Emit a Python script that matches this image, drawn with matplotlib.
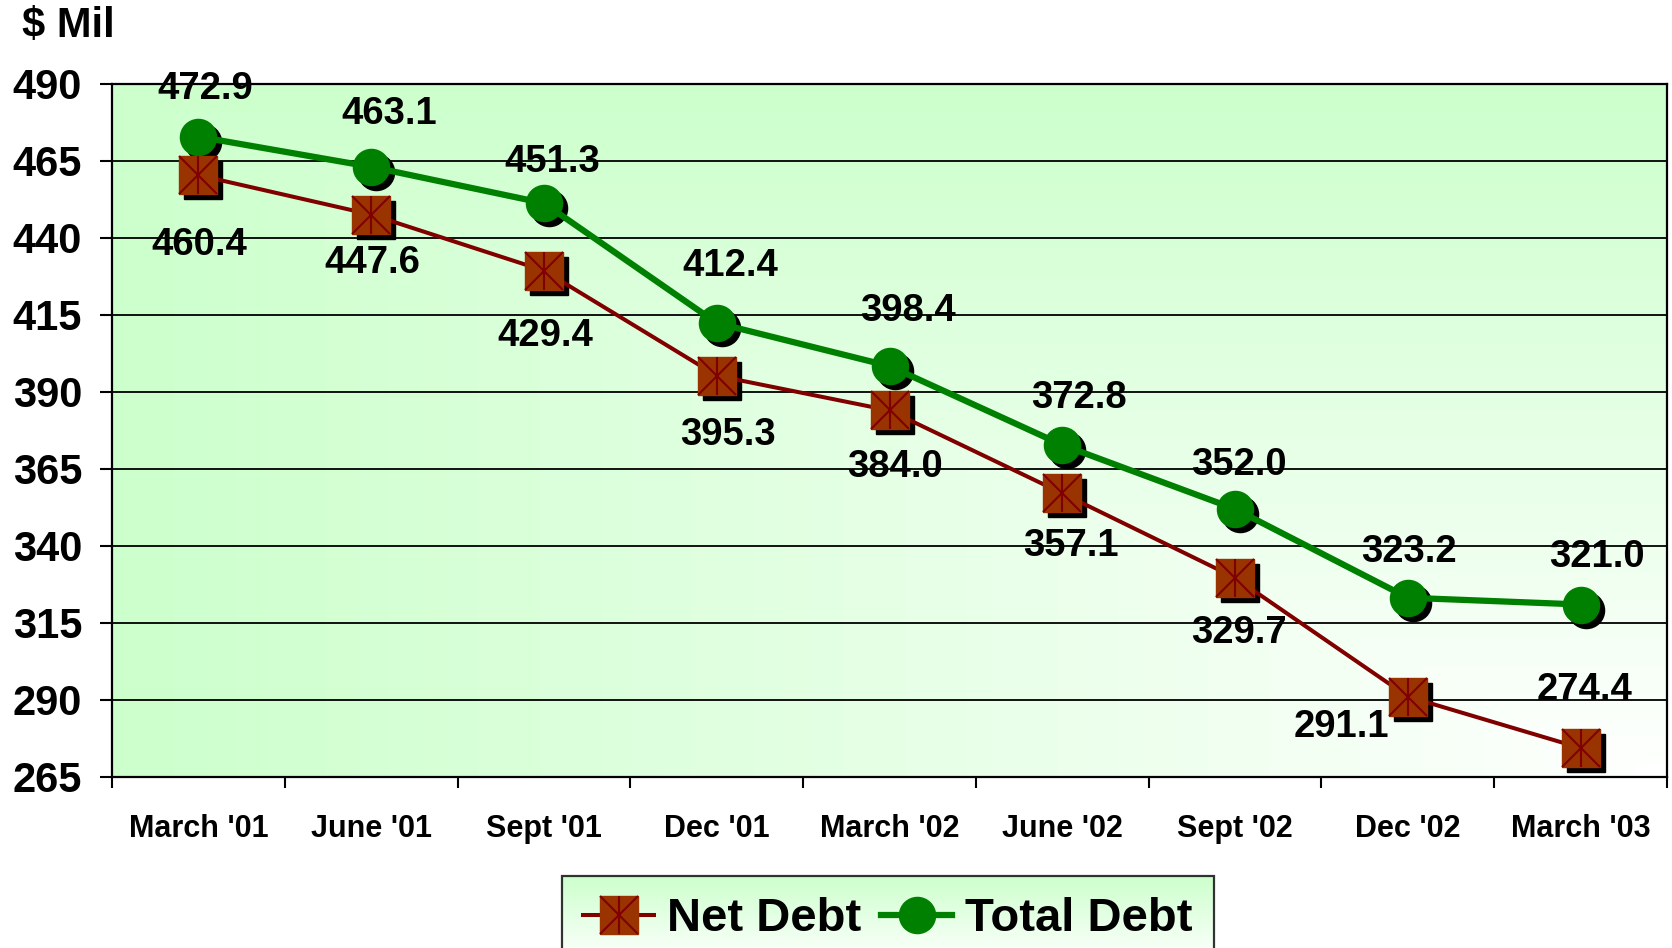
import numpy as np
import matplotlib.pyplot as plt
from matplotlib.lines import Line2D
from matplotlib.transforms import ScaledTranslation
from matplotlib.legend_handler import HandlerTuple

plt.rcParams['font.family'] = ['Liberation Sans', 'DejaVu Sans']
plt.rcParams['font.weight'] = 'bold'

quarters = ["March '01", "June '01", "Sept '01", "Dec '01", "March '02",
            "June '02", "Sept '02", "Dec '02", "March '03"]
net_debt = [460.4, 447.6, 429.4, 395.3, 384.0, 357.1, 329.7, 291.1, 274.4]
total_debt = [472.9, 463.1, 451.3, 412.4, 398.4, 372.8, 352.0, 323.2, 321.0]
y_ticks = [265, 290, 315, 340, 365, 390, 415, 440, 465, 490]

# where the value labels sit relative to the markers (points)
total_off = [(5, 34), (13, 38), (6, 30), (10, 41), (13, 40), (12, 34), (3, 32), (1, 33), (12, 34)]
net_off = [(1, -50), (1, -35), (1, -47), (8, -43), (4, -41), (6, -38), (3, -40), (-48, -22), (3, 42)]

green = '#008000'
red_line = '#800000'
brown = '#993300'
light_green = np.array([204, 255, 204]) / 255.0
white = np.array([1.0, 1.0, 1.0])

fig = plt.figure(figsize=(16.72, 9.48), dpi=100)
ax = fig.add_axes([0.067, 0.1804, 0.930, 0.731])

x = np.arange(len(quarters))

# background: green fading to white towards the bottom-right corner
H, W = 200, 400
u = np.linspace(0, 1, W)[None, :]
v = np.linspace(0, 1, H)[:, None]
t = np.maximum(1 - u, 1 - v)
grad = white[None, None, :] * (1 - t[..., None]) + light_green[None, None, :] * t[..., None]
ax.imshow(grad, extent=[0, 1, 0, 1], transform=ax.transAxes, aspect='auto', zorder=0)

ax.set_xlim(-0.5, len(quarters) - 0.5)
ax.set_ylim(265, 490)
ax.set_axisbelow(True)
ax.yaxis.grid(True, color='black', linewidth=1.3)

# drop shadows under the markers
shadow = ax.transData + ScaledTranslation(5 / 100, -5 / 100, fig.dpi_scale_trans)
ax.plot(x, net_debt, 's', ms=27, color='black', transform=shadow, zorder=2)
ax.plot(x, total_debt, 'o', ms=26, color='black', transform=shadow, zorder=2)

ax.plot(x, net_debt, '-', color=red_line, lw=2.9, zorder=3)
ax.plot(x, total_debt, '-', color=green, lw=4.5, zorder=3)
ax.plot(x, net_debt, 's', ms=27, mfc=brown, mec=brown, zorder=4)
ax.plot(x, net_debt, 'x', ms=27, mec=red_line, mew=1.5, zorder=5)
ax.plot(x, net_debt, '|', ms=27, mec=red_line, mew=1.5, zorder=5)
ax.plot(x, total_debt, 'o', ms=26, mfc=green, mec=green, zorder=4)

for i in range(len(quarters)):
    ax.annotate('%.1f' % total_debt[i], (x[i], total_debt[i]), xytext=total_off[i],
                textcoords='offset points', ha='center', va='center',
                fontsize=27.5, fontweight='bold', zorder=6)
    ax.annotate('%.1f' % net_debt[i], (x[i], net_debt[i]), xytext=net_off[i],
                textcoords='offset points', ha='center', va='center',
                fontsize=27.5, fontweight='bold', zorder=6)

ax.set_yticks(y_ticks)
ax.set_yticklabels([str(v) for v in y_ticks])
ax.tick_params(axis='y', length=8.5, width=1.5, pad=13, labelsize=30)
ax.set_xticks(np.arange(-0.5, len(quarters)))
ax.set_xticklabels([])
ax.set_xticks(x, minor=True)
ax.set_xticklabels(quarters, minor=True)
ax.tick_params(axis='x', which='major', length=8, width=1.5)
ax.tick_params(axis='x', which='minor', length=0, pad=27, labelsize=22)
for s in ax.spines.values():
    s.set_linewidth(1.6)
    s.set_color('black')

fig.text(0.013, 0.9726, '$ Mil', fontsize=30, fontweight='bold', ha='left', va='center')

h_net = (Line2D([], [], color=red_line, lw=2.9, marker='s', ms=27, mfc=brown, mec=brown),
         Line2D([], [], ls='none', marker='x', ms=27, mec=red_line, mew=1.5),
         Line2D([], [], ls='none', marker='|', ms=27, mec=red_line, mew=1.5))
h_tot = Line2D([], [], color=green, lw=4.5, marker='o', ms=26, mfc=green, mec=green)
leg = fig.legend([h_net, h_tot], ['Net Debt', 'Total Debt'], ncol=2,
                 handler_map={tuple: HandlerTuple(ndivide=1, pad=0)},
                 loc='upper center', bbox_to_anchor=(0.531, 0.076),
                 prop={'size': 34, 'weight': 'bold'}, frameon=True, fancybox=False,
                 handlelength=1.5, handletextpad=0.27, columnspacing=0.43,
                 borderpad=0.45, borderaxespad=0)
leg.get_frame().set_facecolor('none')
leg.get_frame().set_edgecolor('black')
leg.get_frame().set_linewidth(1.6)

fig.canvas.draw()
bb = leg.get_window_extent().transformed(fig.transFigure.inverted())
lax = fig.add_axes(bb.bounds, zorder=-1)
lv = np.linspace(0, 1, 100)[:, None]
lgrad = light_green[None, None, :] * (1 - lv[..., None]) + white[None, None, :] * lv[..., None]
lax.imshow(np.repeat(lgrad, 2, axis=1), aspect='auto', extent=[0, 1, 0, 1])
lax.axis('off')

fig.savefig('out.png', dpi=100)
